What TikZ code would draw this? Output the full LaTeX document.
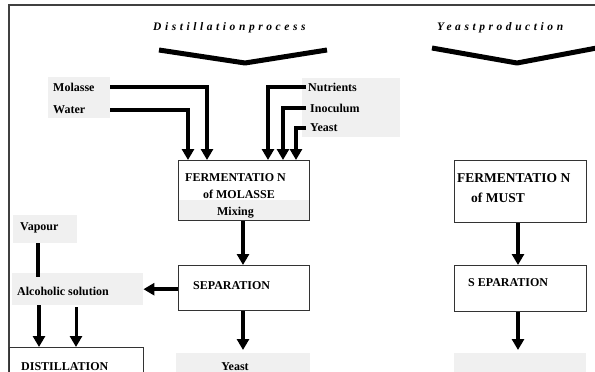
\documentclass[tikz,border=0pt]{standalone}
\usepackage{fontspec}
\setmainfont{Liberation Serif}
\usetikzlibrary{arrows.meta}
\begin{document}
\begin{tikzpicture}[x=1pt,y=-1pt,
 lbl/.style={font=\fontsize{12}{14}\selectfont\bfseries, inner sep=0pt, anchor=west},
 biglbl/.style={font=\fontsize{13.5}{16}\selectfont\bfseries, inner sep=0pt, anchor=west},
 graybox/.style={fill=black!6, draw=none, inner sep=0pt, anchor=north west},
 procbox/.style={draw=black!80, line width=1.2pt, inner sep=0pt, anchor=north west},
 arr/.style={line width=3.5pt, -{Triangle[width=12pt,length=11pt]}},
 ttl/.style={font=\fontsize{11.5}{13}\selectfont\bfseries\itshape\addfontfeature{LetterSpace=31}, inner sep=0pt, anchor=west},
 bracestroke/.style={line width=5pt, line join=round}]
\useasboundingbox (0,0) rectangle (595,372);
\fill[white] (0,0) rectangle (595,372);
% frame
\draw[black!75, line width=1.2pt] (600,5) -- (9,5) -- (9,380);
% titles
\node[ttl] (t1) at (153,28) {Distillationprocess};
\node[ttl] (t2) at (437,28) {Yeastproduction};
\draw[bracestroke] (159,50) -- (245,63) -- (327,50);
\draw[bracestroke] (432,48) -- (517,63) -- (602,47);
% gray backgrounds
\node[graybox, minimum width=62, minimum height=41] (mw) at (48,77) {};
\node[graybox, minimum width=98, minimum height=59] (nut) at (302,78) {};
\node[graybox, minimum width=64, minimum height=28] (vap) at (13,215) {};
\node[graybox, minimum width=131, minimum height=32] (alc) at (12,273) {};
\node[graybox, minimum width=134, minimum height=25] (yout) at (176,353) {};
\node[graybox, minimum width=132, minimum height=25] (bot2) at (454,353) {};
\node[graybox, minimum width=131, minimum height=20] (mix) at (178,200) {};
% process boxes
\node[procbox, minimum width=131, minimum height=60] (ferm) at (178,160) {};
\node[procbox, minimum width=131, minimum height=45] (sep) at (178,265) {};
\node[procbox, minimum width=134, minimum height=45] (dist) at (9,347) {};
\node[procbox, minimum width=132, minimum height=62] (fmust) at (454,160) {};
\node[procbox, minimum width=132, minimum height=46] (sep2) at (454,265) {};
% texts
\node[lbl] (molasse) at (53,87) {Molasse};
\node[lbl] (water) at (53,110) {Water};
\node[lbl] (nutrients) at (308,87) {Nutrients};
\node[lbl] (inoculum) at (310,108) {Inoculum};
\node[lbl] (yeastin) at (310,128) {Yeast};
\node[lbl] (ft1) at (185,178) {FERMENTATIO N};
\node[lbl, anchor=center] (ft2) at (239,194) {of MOLASSE};
\node[lbl, anchor=center] (mixtxt) at (235.5,213) {Mixing};
\node[lbl] (septxt) at (193,286) {SEPARATION};
\node[lbl] (alctxt) at (17,291) {Alcoholic solution};
\node[lbl] (vaptxt) at (20,228) {Vapour};
\node[lbl] (disttxt) at (21,367) {DISTILLATION};
\node[lbl, anchor=center] (youttxt) at (235,367) {Yeast};
\node[biglbl] (fm1) at (457,178) {FERMENTATIO N};
\node[biglbl] (fm2) at (471,198) {of MUST};
\node[lbl] (sep2txt) at (468,283) {S EPARATION};
% connectors
\draw[arr] (molasse.east -| mw.east) -| ([xshift=29pt]ferm.north west);
\draw[arr] (water.east -| mw.east) -| ([xshift=10pt]ferm.north west);
\draw[arr] ([xshift=-2pt]nutrients.west) -| ([xshift=90pt]ferm.north west);
\draw[arr] ([xshift=-4pt]inoculum.west) -| ([xshift=105pt]ferm.north west);
\draw[arr] ([xshift=-4pt]yeastin.west) -| ([xshift=118pt]ferm.north west);
\draw[arr] ([xshift=65pt]ferm.south west) -- ([xshift=65pt]sep.north west);
\draw[arr] (sep.west |- alc.east) -- (alc.east);
\draw[arr] ([xshift=65pt]sep.south west) -- ([xshift=65pt,yshift=3pt]sep.south west |- yout.north);
\coordinate (v1) at ([xshift=25pt]vap.south west);
\draw[line width=4pt] (v1) -- ([yshift=-4pt]v1 |- alc.north);
\coordinate (a1) at ([xshift=27pt]alc.south west);
\coordinate (a2) at ([xshift=64pt,yshift=-2pt]alc.south west);
\draw[arr] (a1) -- (a1 |- dist.north);
\draw[arr, line width=3pt] (a2) -- (a2 |- dist.north);
\draw[arr] ([xshift=64pt]fmust.south west) -- ([xshift=64pt]sep2.north west);
\coordinate (b1) at ([xshift=64pt]sep2.south west);
\draw[arr] (b1) -- ([yshift=3pt]b1 |- bot2.north);
\end{tikzpicture}
\end{document}
